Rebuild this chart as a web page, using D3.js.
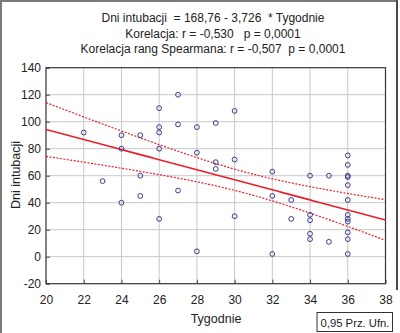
<!DOCTYPE html>
<html><head><meta charset="utf-8">
<script src="https://cdn.jsdelivr.net/npm/d3@7"></script>
<style>body{margin:0;background:#fff}svg{display:block}text{font-family:"Liberation Sans",Arial,sans-serif;fill:#222;white-space:pre}</style>
</head><body><svg id="c" width="400" height="333"></svg>
<script>
const titleLines = ["Dni intubacji  = 168,76 - 3,726  * Tygodnie",
  "Korelacja: r = -0,530   p = 0,0001",
  "Korelacja rang Spearmana: r = -0,507  p = 0,0001"];
const xTicks = [20,22,24,26,28,30,32,34,36,38];
const yTicks = [-20,0,20,40,60,80,100,120,140];
const weeks = [22,23,24,24,24,25,25,25,26,26,26,26,26,27,27,27,28,28,28,29,29,29,30,30,30,32,32,32,33,33,34,34,34,34,34,35,35,36,36,36,36,36,36,36,36,36,36,36,36];
const days  = [92,56,90,80,40,90,60,45,110,96,92,80,28,120,98,49,96,77,4,99,70,65,108,72,30,63,45,2,42,28,60,31,27,17,13,60,11,75,68,60,59,53,42,31,28,26,18,13,2];
const intercept = 168.76, slope = -3.726;
const xTitle = "Tygodnie", yTitle = "Dni intubacji", legendText = "0,95 Prz. Ufn.";

const svg = d3.select("#c");
const L=46, R=385.5, T=67.7, B=283.7;
const x = d3.scaleLinear().domain([20,38]).range([L,R]);
const y = d3.scaleLinear().domain([-20,140]).range([B,T]);

// frame
svg.append("line").attr("x1",1).attr("x2",1).attr("y1",0).attr("y2",333).attr("stroke","#7a7a7a").attr("stroke-width",2);
svg.append("line").attr("x1",0).attr("x2",398).attr("y1",1).attr("y2",1).attr("stroke","#7a7a7a").attr("stroke-width",2);
svg.append("line").attr("x1",397).attr("x2",397).attr("y1",0).attr("y2",290).attr("stroke","#4a4a4a").attr("stroke-width",2);

// grid
svg.append("g").selectAll("line").data(xTicks.slice(1,-1)).join("line")
  .attr("x1",d=>x(d)).attr("x2",d=>x(d)).attr("y1",T).attr("y2",B).attr("stroke","#c8c8c8");
svg.append("g").selectAll("line").data(yTicks.slice(1,-1)).join("line")
  .attr("y1",d=>y(d)).attr("y2",d=>y(d)).attr("x1",L).attr("x2",R).attr("stroke","#c8c8c8");

// axes
const ax = svg.append("g").attr("transform",`translate(0,${B})`)
  .call(d3.axisBottom(x).tickValues(xTicks).tickSize(-4).tickPadding(12).tickFormat(d3.format("d")));
const ay = svg.append("g").attr("transform",`translate(${L},0)`)
  .call(d3.axisLeft(y).tickValues(yTicks).tickSize(-4).tickPadding(5).tickFormat(d=>String(d)));
[ax,ay].forEach(g=>{g.select(".domain").remove();g.selectAll("line").attr("stroke","#444");
  g.selectAll("text").attr("font-size",12).attr("fill","#222").attr("font-family","Liberation Sans, Arial, sans-serif");});
svg.append("rect").attr("x",L).attr("y",T).attr("width",R-L).attr("height",B-T).attr("fill","none").attr("stroke","#333").attr("stroke-width",1.2);

// regression + confidence bands
const n = weeks.length, xm = d3.mean(weeks);
const Sxx = d3.sum(weeks, w=>(w-xm)**2);
const sse = d3.sum(weeks.map((w,i)=>(days[i]-(intercept+slope*w))**2));
const s = Math.sqrt(sse/(n-2)), tcrit = 2.012;
const xs = d3.range(20,38.01,0.25);
const fit = w=>intercept+slope*w;
const hw = w=>tcrit*s*Math.sqrt(1/n+(w-xm)**2/Sxx);
const line = d3.line().x(d=>x(d[0])).y(d=>y(d[1]));
const red = "#e8202a";
svg.append("path").attr("d",line(xs.map(w=>[w,fit(w)]))).attr("fill","none").attr("stroke",red).attr("stroke-width",1.6);
svg.append("path").attr("d",line(xs.map(w=>[w,fit(w)+hw(w)]))).attr("fill","none").attr("stroke",red).attr("stroke-width",1.2).attr("stroke-dasharray","2,1.5");
svg.append("path").attr("d",line(xs.map(w=>[w,fit(w)-hw(w)]))).attr("fill","none").attr("stroke",red).attr("stroke-width",1.2).attr("stroke-dasharray","2,1.5");

// points
svg.append("g").selectAll("circle").data(weeks.map((w,i)=>[w,days[i]])).join("circle")
  .attr("cx",d=>x(d[0])).attr("cy",d=>y(d[1])).attr("r",2.4)
  .attr("fill","none").attr("stroke","#3a3a8c").attr("stroke-width",1);

// titles
svg.append("g").selectAll("text").data(titleLines).join("text")
  .attr("x",213).attr("y",(d,i)=>22+i*15.7).attr("text-anchor","middle").attr("font-size",12).text(d=>d);
svg.append("text").attr("x",216).attr("y",323).attr("text-anchor","middle").attr("font-size",12.5).text(xTitle);
svg.append("text").attr("transform","translate(20,175) rotate(-90)").attr("text-anchor","middle").attr("font-size",12.5).text(yTitle);

// legend box
svg.append("rect").attr("x",317).attr("y",312.5).attr("width",75.5).attr("height",19).attr("fill","#fff").attr("stroke","#333");
svg.append("text").attr("x",320.5).attr("y",327).attr("font-size",11.5).attr("textLength",69).attr("lengthAdjust","spacingAndGlyphs").text(legendText);
</script></body></html>
